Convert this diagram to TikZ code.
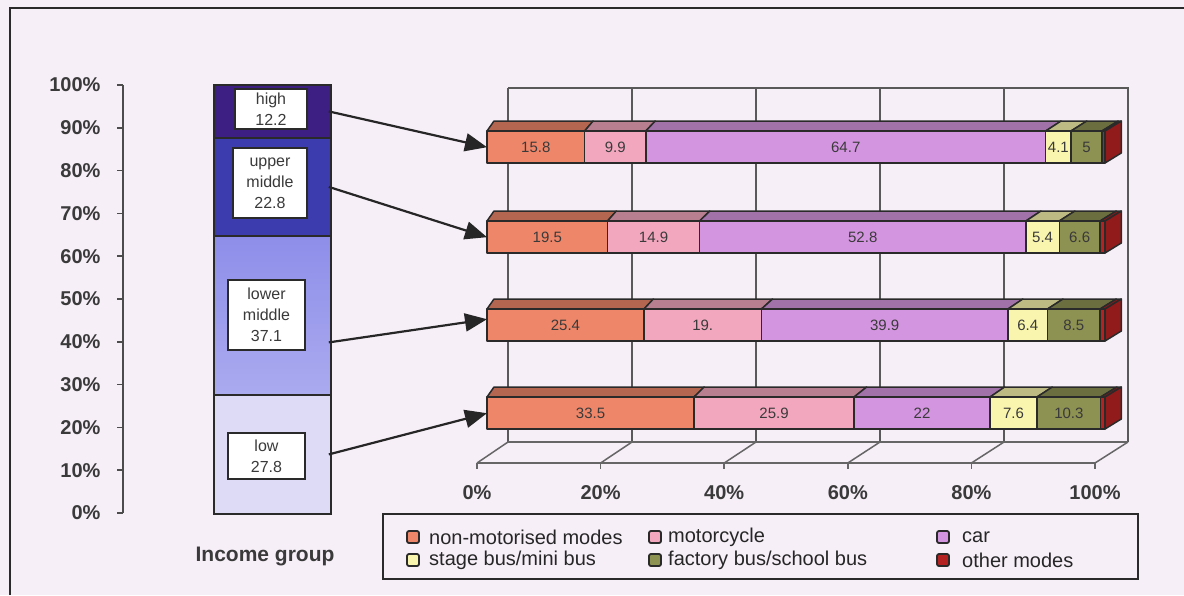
\documentclass[tikz,border=0pt]{standalone}
\usepackage{fontspec}
\setmainfont{Liberation Sans}
\usetikzlibrary{arrows.meta}

\definecolor{paper}{HTML}{F7EFF8}
\definecolor{ink}{HTML}{2A2A2A}
\definecolor{txt}{HTML}{3A3A3A}
\definecolor{mode1}{HTML}{EE866A}
\definecolor{mode2}{HTML}{F2A7BF}
\definecolor{mode3}{HTML}{D495E0}
\definecolor{mode4}{HTML}{FAF5AE}
\definecolor{mode5}{HTML}{8D9152}
\definecolor{mode6}{HTML}{B52222}
\definecolor{incHigh}{HTML}{3D1E82}
\definecolor{incUpper}{HTML}{3C3CAE}
\definecolor{incLower}{HTML}{8E8EEA}
\definecolor{incLow}{HTML}{DDDBF6}

\tikzset{
  colseg/.style={draw=ink, line width=1.8pt, inner sep=0pt, minimum width=117pt, anchor=north west},
  incbox/.style={draw=ink, fill=white, line width=1.5pt, inner sep=0pt, align=center,
                 font=\fontsize{16}{21}\selectfont, text=txt},
  axislab/.style={font=\fontsize{20}{24}\selectfont\bfseries, text=txt},
  ptr/.style={draw=black!85, line width=2.2pt, -{Triangle[length=22pt,width=18pt]}},
  gridline/.style={draw=black!65, line width=1.5pt},
  floorline/.style={draw=black!60, line width=1.5pt},
  segedge/.style={draw=ink, line width=1.5pt, line join=round},
  seglab/.style={font=\fontsize{15}{18}\selectfont, text=txt},
  legtext/.style={font=\fontsize{20}{24}\selectfont, text=black!85, anchor=west, inner sep=0pt},
  legkey/.style={draw=ink, line width=1.8pt, rounded corners=2pt, minimum size=12pt, inner sep=0pt},
}

% one horizontal 3-D stacked bar: name, top edge, list of share/label
\newcommand\modebar[3]{%
  \node[inner sep=0pt, minimum width=618pt, minimum height=32pt, anchor=north west] (#1) at (487,#2) {};
  \gdef\runsum{0}%
  \foreach \share/\lab [count=\k] in {#3} {
    \pgfmathsetmacro\xa{487+6.18*\runsum}
    \pgfmathsetmacro\xb{487+6.18*(\runsum+\share)}
    \pgfmathsetmacro\da{7+(\xa-487)*0.015}
    \pgfmathsetmacro\db{7+(\xb-487)*0.015}
    \filldraw[segedge, fill=mode\k!76!black] (\xa,#2) -- ++(\da,-10) -- (\xb+\db,#2-10) -- (\xb,#2) -- cycle;
    \filldraw[segedge, fill=mode\k] (\xa,#2) rectangle (\xb,#2+32);
    \node[seglab] at ({(\xa+\xb)/2},#2+16) {\lab};
    \pgfmathsetmacro\nextsum{\runsum+\share}
    \xdef\runsum{\nextsum}
    \xdef\lastx{\xb}\xdef\lastd{\db}
  }
  \filldraw[segedge, fill=mode6!80!black] (\lastx,#2) -- ++(\lastd,-10) -- ++(0,32) -- (\lastx,#2+32) -- cycle;
}

\begin{document}
\begin{tikzpicture}[x=1pt, y=-1pt]
\useasboundingbox (0,0) rectangle (1184,595);
\fill[paper] (0,0) rectangle (1184,595);

% frame of the figure
\draw[ink, line width=2pt] (10,595) -- (10,8) -- (1184,8);

% back wall and floor of the bar chart
\draw[gridline] (508,88) -- (1128,88) -- (1128,442);
\foreach \k in {0,...,4} \draw[gridline] ({508+124*\k},88) -- ({508+124*\k},442);
\draw[floorline] (477,463) -- (1095,463);
\draw[floorline] (508,442) -- (1128,442);
\foreach \k/\t in {0/0\%,1/20\%,2/40\%,3/60\%,4/80\%,5/100\%} {
  \draw[floorline] ({477+123.6*\k},463) -- ({508+124*\k},442);
  \draw[floorline] ({477+123.6*\k},463) -- ++(0,6);
  \node[axislab] at ({477+123.6*\k},493) {\t};
}

% bars by income group
\modebar{bar1}{131}{15.8/15.8, 9.9/9.9, 64.7/64.7, 4.1/4.1, 5/5, 0.5/{}}
\modebar{bar2}{221}{19.5/19.5, 14.9/14.9, 52.8/52.8, 5.4/5.4, 6.6/6.6, 0.8/{}}
\modebar{bar3}{309}{25.4/25.4, 19/19., 39.9/39.9, 6.4/6.4, 8.5/8.5, 0.8/{}}
\modebar{bar4}{397}{33.5/33.5, 25.9/25.9, 22/22, 7.6/7.6, 10.3/10.3, 0.7/{}}

% income group axis
\draw[floorline, draw=black!70] (123,85) -- (123,513);
\foreach \k in {0,...,10} {
  \draw[floorline, draw=black!70] (117,{513-42.8*\k}) -- (123,{513-42.8*\k});
  \pgfmathtruncatemacro\pc{10*\k}
  \node[axislab, anchor=east] at (104,{513-42.8*\k}) {\pc\%};
}

% income group column
\node[colseg, fill=incHigh, minimum height=53pt] (colHigh) at (213,84) {};
\node[colseg, fill=incUpper, minimum height=98pt] (colUM) at (213,137) {};
\node[colseg, top color=incLower, bottom color=incLower!75!white, minimum height=159pt] (colLM) at (213,235) {};
\node[colseg, fill=incLow, minimum height=119pt] (colLow) at (213,394) {};

\node[incbox, minimum width=72pt, minimum height=40pt] (labHigh) at (271,109) {high\\12.2};
\node[incbox, minimum width=74pt, minimum height=70pt] (labUM) at (270,183) {upper\\middle\\22.8};
\node[incbox, minimum width=77pt, minimum height=70pt] (labLM) at (266.5,315) {lower\\middle\\37.1};
\node[incbox, minimum width=77pt, minimum height=46pt] (labLow) at (266.5,456) {low\\27.8};

\node[font=\fontsize{21}{25}\selectfont\bfseries, text=txt] (title) at (265,556) {Income group};

% pointers from each income group to its bar
\draw[ptr] ([xshift=-3pt]colHigh.east) -- (bar1.west);
\draw[ptr] ([xshift=-3pt]colUM.east) -- (bar2.west);
\draw[ptr] ([xshift=-3pt,yshift=-27pt]colLM.east) -- ([yshift=6pt]bar3.west);
\draw[ptr] ([xshift=-3pt]colLow.east) -- (bar4.west);

% legend
\node[draw=ink, line width=1.8pt, minimum width=755pt, minimum height=65pt, anchor=north west, inner sep=0pt] (legend) at (382,513) {};
\node[legkey, fill=mode1] (k1) at (413,537) {};
\node[legtext] at (429,537) {non-motorised modes};
\node[legkey, fill=mode2] (k2) at (655,537) {};
\node[legtext] at (668,537) {motorcycle};
\node[legkey, fill=mode3] (k3) at (943,537) {};
\node[legtext] at (962,537) {car};
\node[legkey, fill=mode4] (k4) at (413,560) {};
\node[legtext] at (429,560) {stage bus/mini bus};
\node[legkey, fill=mode5] (k5) at (655,560) {};
\node[legtext] at (668,560) {factory bus/school bus};
\node[legkey, fill=mode6] (k6) at (943,560) {};
\node[legtext] at (962,560) {other modes};
\end{tikzpicture}
\end{document}
